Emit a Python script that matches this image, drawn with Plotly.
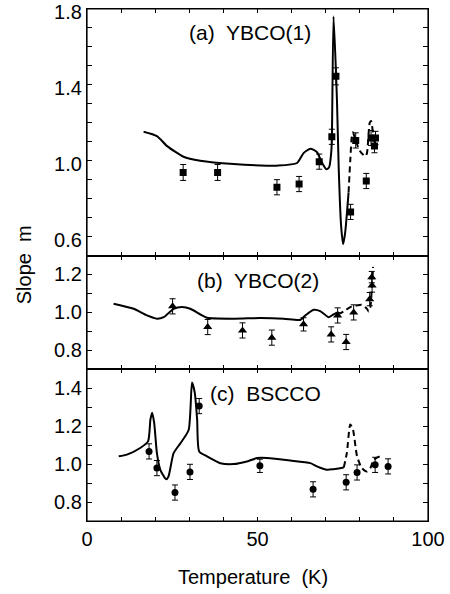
import plotly.graph_objects as go
from plotly.subplots import make_subplots

# ---- data: panel (a) YBCO(1)
a_T = [28.2, 38.3, 55.7, 62.2, 68.1, 71.8, 73.0, 77.3, 78.8, 81.9, 83.3, 84.3, 84.6]
a_m = [0.938, 0.938, 0.86, 0.877, 0.995, 1.126, 1.445, 0.73, 1.107, 0.893, 1.12, 1.077, 1.12]
a_err = [0.042, 0.042, 0.04, 0.04, 0.04, 0.04, 0.045, 0.04, 0.04, 0.04, 0.04, 0.035, 0.035]
a_fit_T = [16.6, 20.5, 23.5, 28.3, 33.2, 43.0, 52.8, 55.7, 61.6, 63.5, 65.5, 67.4, 68.9, 70.2,
           71.0, 71.6, 71.8, 72.3, 73.3, 73.8, 74.5, 75.1, 75.7, 76.7]
a_fit_m = [1.153, 1.13, 1.077, 1.021, 1.0, 0.982, 0.974, 0.974, 0.988, 1.04, 1.063, 1.046, 0.99, 0.955,
           0.965, 1.04, 1.11, 1.761, 1.32, 0.97, 0.66, 0.56, 0.62, 0.832]
a_dash_T = [76.7, 77.2, 77.7, 78.0, 78.7, 80.1, 81.6, 82.1, 82.9, 83.3, 83.9, 84.3]
a_dash_m = [0.832, 1.0, 1.135, 1.15, 1.11, 1.05, 1.023, 1.04, 1.2, 1.21, 1.143, 1.10]

# ---- data: panel (b) YBCO(2)
b_T = [25.1, 35.4, 45.6, 54.2, 63.5, 71.6, 73.5, 76.0, 78.2, 82.9, 83.6, 83.5]
b_m = [1.032, 0.923, 0.905, 0.867, 0.937, 0.884, 0.984, 0.844, 1.0, 1.07, 1.142, 1.186]
b_err = [0.04, 0.04, 0.04, 0.04, 0.035, 0.04, 0.04, 0.04, 0.04, 0.035, 0.035, 0.03]
b_fit_T = [7.8, 13.7, 17.6, 20.5, 22.5, 25.4, 27.9, 30.3, 33.2, 35.2, 43.0, 50.8, 57.7, 62.6,
           64.0, 66.5, 68.4, 70.9, 72.3, 73.5]
b_fit_m = [1.046, 1.019, 0.984, 0.967, 0.975, 1.019, 1.028, 1.019, 0.99, 0.972, 0.967, 0.97, 0.967, 0.961,
           0.984, 1.014, 1.007, 0.975, 0.99, 1.0]
b_dash_T = [73.5, 74.3, 75.7, 77.2, 79.2, 80.6, 82.1, 82.6, 83.1, 83.6, 83.9]
b_dash_m = [1.0, 0.996, 1.01, 1.028, 1.037, 1.04, 1.019, 1.005, 1.028, 1.15, 1.24]

# ---- data: panel (c) BSCCO
c_T = [18.2, 20.5, 25.8, 30.2, 32.9, 50.7, 66.3, 76.0, 79.2, 84.5, 88.3]
c_m = [1.067, 0.979, 0.85, 0.959, 1.306, 0.991, 0.867, 0.904, 0.956, 0.996, 0.988]
c_err = [0.04, 0.04, 0.04, 0.04, 0.04, 0.035, 0.04, 0.04, 0.04, 0.04, 0.04]
c_fit_T = [9.3, 11.7, 15.6, 17.9, 18.6, 19.1, 19.7, 20.5, 21.5, 23.2, 23.9, 25.4, 27.4, 29.8,
           30.8, 31.6, 32.3, 32.9, 35.2, 39.1, 43.0, 46.9, 49.9, 52.8, 59.6, 65.5, 67.4, 70.4, 72.3, 75.3]
c_fit_m = [1.041, 1.05, 1.085, 1.12, 1.235, 1.271, 1.218, 1.058, 0.97, 0.92, 0.935, 1.058, 1.11, 1.18,
           1.43, 1.377, 1.235, 1.067, 1.041, 1.005, 1.0, 1.014, 1.032, 1.032, 1.019, 1.005, 0.988, 0.97, 0.973, 0.982]
c_dash_T = [75.3, 76.2, 77.2, 78.0, 79.2, 80.6, 82.1, 83.1, 84.1, 86.0, 86.8]
c_dash_m = [0.982, 1.058, 1.209, 1.182, 1.041, 0.979, 0.961, 0.979, 1.023, 1.041, 1.032]

panel_labels = ["(a)\u00a0 YBCO(1)", "(b)\u00a0 YBCO(2)", "(c)\u00a0 BSCCO"]
label_pos = [(47.9, 1.675), (50.1, 1.168), (52.3, 1.374)]
y_ranges = [[0.5, 1.8001], [0.7, 1.3], [0.7, 1.5]]
y_tick0 = [0.2, 0.0, 0.0]
y_dtick = [0.4, 0.2, 0.2]
x_ticks = [0, 50, 100]

FONT = "Liberation Sans, Arial, Helvetica, sans-serif"
fig = make_subplots(rows=3, cols=1, shared_xaxes=True, vertical_spacing=0,
                    row_heights=[1.3, 0.6, 0.8])

panels = [
    (a_T, a_m, a_err, a_fit_T, a_fit_m, a_dash_T, a_dash_m, "square", 7),
    (b_T, b_m, b_err, b_fit_T, b_fit_m, b_dash_T, b_dash_m, "triangle-up", 8),
    (c_T, c_m, c_err, c_fit_T, c_fit_m, c_dash_T, c_dash_m, "circle", 7),
]
for i, (T, m, e, fT, fm, dT, dm, sym, ms) in enumerate(panels, start=1):
    fig.add_trace(go.Scatter(x=fT, y=fm, mode="lines", line=dict(color="black", width=2),
                             line_shape="spline", line_smoothing=0.6, showlegend=False), row=i, col=1)
    fig.add_trace(go.Scatter(x=dT, y=dm, mode="lines", line=dict(color="black", width=2, dash="6px,4px"),
                             line_shape="spline", line_smoothing=0.6, showlegend=False), row=i, col=1)
    fig.add_trace(go.Scatter(x=T, y=m, mode="markers",
                             marker=dict(symbol=sym, size=ms, color="black"),
                             error_y=dict(type="data", array=e, color="black", thickness=1, width=3),
                             showlegend=False), row=i, col=1)

for i in range(1, 4):
    fig.update_yaxes(range=y_ranges[i-1], tick0=y_tick0[i-1], dtick=y_dtick[i-1],
                     tickformat=".1f", automargin=False, ticklabeloverflow="allow",
                     ticklabelshift=(3 if i == 1 else 0),
                     ticks="inside", ticklen=5, tickcolor="black", tickwidth=1,
                     minor=dict(dtick=0.1, ticks="inside", ticklen=5, tickcolor="black", tickwidth=1),
                     showline=True, linecolor="black", linewidth=1.2, mirror="allticks",
                     showgrid=False, zeroline=False,
                     tickfont=dict(family=FONT, size=20, color="black"), row=i, col=1)
    fig.update_xaxes(range=[0, 100], tickvals=x_ticks, automargin=False, ticklabeloverflow="allow",
                     ticks="inside", ticklen=4, tickcolor="black", tickwidth=1,
                     minor=dict(dtick=10, ticks="inside", ticklen=4, tickcolor="black", tickwidth=1),
                     showline=True, linecolor="black", linewidth=1, mirror="allticks",
                     showgrid=False, zeroline=False,
                     showticklabels=(i == 3),
                     tickfont=dict(family=FONT, size=20, color="black"), row=i, col=1)
    sfx = "" if i == 1 else str(i)
    fig.add_shape(type="rect", xref=f"x{sfx} domain", yref=f"y{sfx} domain",
                  x0=0, x1=1, y0=0, y1=1, line=dict(color="black", width=1.2),
                  fillcolor="rgba(0,0,0,0)", layer="above")

for i, (txt, (lx, ly)) in enumerate(zip(panel_labels, label_pos), start=1):
    fig.add_annotation(x=lx, y=ly, xref=f"x{'' if i == 1 else i}", yref=f"y{'' if i == 1 else i}",
                       text=txt, showarrow=False, font=dict(family=FONT, size=21, color="black"))

fig.add_annotation(x=-0.184, y=0.5, xref="paper", yref="paper", text="Slope\u00a0 m",
                   xanchor="center", yanchor="middle",
                   textangle=-90, showarrow=False, font=dict(family=FONT, size=20, color="black"))
fig.add_annotation(x=0.488, y=-0.109, xref="paper", yref="paper", text="Temperature\u00a0 (K)",
                   xanchor="center", yanchor="middle",
                   showarrow=False, font=dict(family=FONT, size=20, color="black"))

fig.update_layout(width=450, height=594, margin=dict(l=87, r=22, t=9, b=73),
                  plot_bgcolor="white", paper_bgcolor="white")
fig.write_html("out.html", config={"displayModeBar": False},
               post_script="document.body.style.margin='0';")
